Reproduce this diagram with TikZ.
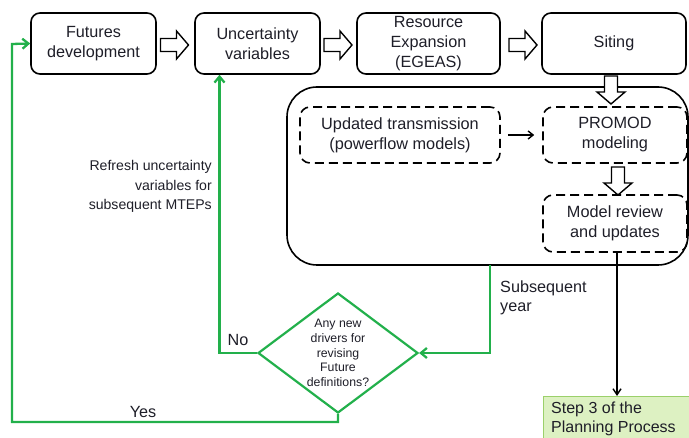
\documentclass[tikz,border=0pt]{standalone}
\usepackage{fontspec}
\setmainfont{Liberation Sans}
\usetikzlibrary{shapes.geometric,arrows.meta}
\definecolor{grn}{HTML}{22B04B}
\definecolor{stepfill}{HTML}{DDF1C2}
\definecolor{stepline}{HTML}{9BD06A}
\definecolor{txt}{HTML}{1E1E28}
\tikzset{
  topbox/.style={draw, line width=1.6pt, rounded corners=9pt, minimum height=61pt, align=center, font=\fontsize{16.2}{20}\selectfont, text=txt, inner sep=0pt},
  dbox/.style={draw, line width=1.6pt, dash pattern=on 9pt off 5pt, rounded corners=10pt, minimum height=56pt, align=center, font=\fontsize{16.3}{20}\selectfont, text=txt, inner sep=0pt},
  glink/.style={draw=grn, line width=2.3pt},
  lbl/.style={font=\fontsize{16.2}{19}\selectfont, text=txt, inner sep=0pt},
  barrow/.pic={\draw[fill=white, line width=1.4pt] (-14,-6.5) -- (2,-6.5) -- (2,-14) -- (14,0) -- (2,14) -- (2,6.5) -- (-14,6.5) -- cycle;}
}
\begin{document}
\begin{tikzpicture}[x=1pt,y=-1pt]
\useasboundingbox (0,0) rectangle (689,438);
\clip (0,0) rectangle (689,438);
% big container
\node[draw, line width=1.6pt, rounded corners=30pt, minimum width=401pt, minimum height=178pt, inner sep=0pt] (big) at (487.5,176) {};
% top row
\node[topbox, minimum width=125pt] (fut) at (93.5,43.5) {Futures\\development};
\node[topbox, minimum width=125pt] (unc) at (257.5,43.5) {Uncertainty\\variables};
\node[topbox, minimum width=143pt] (res) at (428.5,43.5) {Resource\\Expansion\\(EGEAS)};
\node[topbox, minimum width=144pt] (sit) at (614,43.5) {Siting};
% dashed boxes
\node[dbox, minimum width=200pt] (upd) at (400,135) {Updated transmission\\(powerflow models)};
\node[dbox, minimum width=144pt] (pro) at (615,135) {PROMOD\\modeling};
\node[dbox, minimum width=144pt, minimum height=57pt] (rev) at (615,223.5) {Model review\\and updates};
% step 3
\node[draw=stepline, fill=stepfill, line width=1pt, minimum width=170pt, minimum height=60pt, anchor=north west, inner sep=0pt] (st3) at (543,396) {};
\node[lbl, anchor=north west, align=left, font=\fontsize{16}{19}\selectfont] (st3t) at (551,402) {Step 3 of the\\Planning Process};
% diamond
\node[diamond, draw=grn, line width=2.2pt, minimum width=160pt, minimum height=120pt, aspect=1.333, inner sep=0pt, align=center, font=\fontsize{12.3}{14.7}\selectfont, text=txt] (dia) at (338,353) {Any new\\drivers for\\revising\\Future\\definitions?};
% block arrows
\path (174.5,45) pic {barrow};
\path (338,45) pic {barrow};
\path (523,45) pic {barrow};
\path (611,90) pic[rotate=-90] {barrow};
\path (618,181) pic[rotate=-90] {barrow};
% thin arrow
\draw[line width=1.4pt, -{Straight Barb[length=5pt,width=8pt]}] (upd.east) ++(7,0) -- ([xshift=-8pt]pro.west);
% black line to step 3
\coordinate (revout) at ([xshift=2pt]rev.south);
\draw[line width=1.4pt, -{Straight Barb[length=6pt,width=8pt]}] (revout) -- (st3.north -| revout);
% green links
\coordinate (bigb) at (490,265);
\coordinate (uncin) at ([xshift=-38pt]unc.south);
\draw[glink, -{Straight Barb[length=6pt,width=10pt]}] (bigb) |- (dia.east);
\draw[glink, -{Straight Barb[length=6pt,width=10pt]}] (dia.west) -| (uncin);
\draw[glink, -{Straight Barb[length=6pt,width=10pt]}] (dia.south) -- (338,422) -| (12,44) -- (fut.west);
% labels
\node[lbl, font=\fontsize{14.1}{19.7}\selectfont, anchor=north east, align=right] (ref) at (212,160) {Refresh uncertainty\\variables for\\subsequent MTEPs};
\node[lbl, anchor=north west, align=left] (sub) at (500,281) {Subsequent\\year};
\node[lbl, anchor=center] (no) at (238,340) {No};
\node[lbl, anchor=center] (yes) at (143,412) {Yes};
\end{tikzpicture}
\end{document}
